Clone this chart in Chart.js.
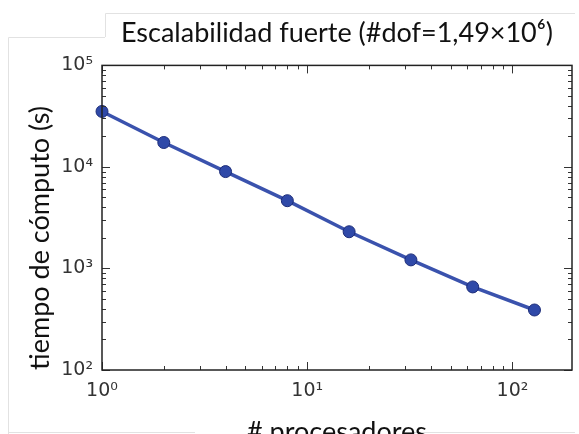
<!DOCTYPE html>
<html><head><meta charset="utf-8">
<script src="https://cdn.jsdelivr.net/npm/chart.js@4"></script>
<style>html,body{margin:0;padding:0;background:#fff}#wrap{width:579px;height:434px}</style>
</head><body><div id="wrap"><canvas id="c" width="579" height="434"></canvas></div>
<script>
const processors = [1, 2, 4, 8, 16, 32, 64, 128];
const timeSeconds = [35200, 17400, 9000, 4650, 2300, 1215, 658, 390];
const xTickLabels = {1: '10⁰', 10: '10¹', 100: '10²'};
const yTickLabels = {100: '10²', 1000: '10³', 10000: '10⁴', 100000: '10⁵'};
const titleText = 'Escalabilidad fuerte (#dof=1,49×10⁶)';
const xTitle = '# procesadores';
const yTitle = 'tiempo de cómputo (s)';

const isPow10 = v => Math.abs(Math.log10(v) - Math.round(Math.log10(v))) < 1e-9;

const tickPlugin = {
  id: 'inTicks',
  beforeDraw(chart) {
    const ctx = chart.ctx;
    ctx.save();
    ctx.strokeStyle = '#e2e2e2';
    ctx.lineWidth = 1;
    ctx.beginPath();
    ctx.moveTo(105.5, 37); ctx.lineTo(105.5, 13.5); ctx.lineTo(575, 13.5);
    ctx.moveTo(8.5, 434); ctx.lineTo(8.5, 37.5); ctx.lineTo(105, 37.5);
    ctx.moveTo(8.5, 432.5); ctx.lineTo(195, 432.5);
    ctx.moveTo(405, 432.5); ctx.lineTo(575, 432.5);
    ctx.stroke();
    ctx.restore();
  },
  afterDatasetsDraw(chart) {
    const ctx = chart.ctx, a = chart.chartArea;
    const xs = chart.scales.x, ys = chart.scales.y;
    ctx.save();
    ctx.strokeStyle = '#333';
    ctx.lineWidth = 1;
    const vals = (min, max) => {
      const out = [];
      for (let e = Math.floor(Math.log10(min)); e <= Math.ceil(Math.log10(max)); e++) {
        for (let m = 1; m <= 9; m++) {
          const v = m * Math.pow(10, e);
          if (v >= min - 1e-9 && v <= max + 1e-9) out.push(v);
        }
      }
      return out;
    };
    ctx.beginPath();
    vals(xs.min, xs.max).forEach(v => {
      const x = Math.round(xs.getPixelForValue(v)) + 0.5;
      const L = isPow10(v) ? 8 : 4;
      ctx.moveTo(x, a.bottom); ctx.lineTo(x, a.bottom - L);
      ctx.moveTo(x, a.top); ctx.lineTo(x, a.top + L);
    });
    vals(ys.min, ys.max).forEach(v => {
      const y = Math.round(ys.getPixelForValue(v)) + 0.5;
      const L = isPow10(v) ? 8 : 4;
      ctx.moveTo(a.left, y); ctx.lineTo(a.left + L, y);
      ctx.moveTo(a.right, y); ctx.lineTo(a.right - L, y);
    });
    ctx.stroke();
    ctx.lineWidth = 1.5;
    ctx.strokeStyle = '#222';
    ctx.strokeRect(a.left, a.top, a.right - a.left, a.bottom - a.top);
    ctx.restore();
  }
};

new Chart(document.getElementById('c'), {
  type: 'line',
  data: {
    datasets: [{
      data: processors.map((p, i) => ({x: p, y: timeSeconds[i]})),
      borderColor: '#3a52ad',
      borderWidth: 3.5,
      pointRadius: 6,
      pointBackgroundColor: '#2f49a8',
      pointBorderColor: '#1c2c78',
      pointBorderWidth: 1,
      tension: 0,
      clip: false
    }]
  },
  options: {
    responsive: false,
    animation: false,
    devicePixelRatio: 1,
    layout: {padding: {left: 0, right: 6, top: 0, bottom: 0}},
    plugins: {
      legend: {display: false},
      tooltip: {enabled: false},
      title: {
        display: true, text: titleText, fullSize: false,
        color: '#111', font: {family: 'Lato', size: 27, weight: 'normal'},
        padding: {top: 17, bottom: 16}
      }
    },
    scales: {
      x: {
        type: 'logarithmic', min: 1, max: 195,
        afterFit(s) { s.height = 64; },
        afterBuildTicks(s) { s.ticks = s.ticks.filter(t => isPow10(t.value)); },
        grid: {display: false, drawTicks: false},
        border: {display: false},
        ticks: {
          autoSkip: false, maxRotation: 0, padding: 10, color: '#333',
          font: {family: 'DejaVu Sans', size: 19},
          callback: v => xTickLabels[Math.round(v)] || ''
        },
        title: {display: true, text: xTitle, color: '#111',
          font: {family: 'Lato', size: 27}, padding: {top: 0, bottom: -14}}
      },
      y: {
        type: 'logarithmic', min: 100, max: 100000,
        afterFit(s) { s.width = 102; },
        afterBuildTicks(s) { s.ticks = s.ticks.filter(t => isPow10(t.value)); },
        grid: {display: false, drawTicks: false},
        border: {display: false},
        ticks: {
          autoSkip: false, padding: 9, color: '#333',
          font: {family: 'DejaVu Sans', size: 19},
          callback: v => yTickLabels[Math.round(v)] || ''
        },
        title: {display: true, text: yTitle + '\u2002\u2002\u2002', color: '#111',
          font: {family: 'Lato', size: 27}, padding: {top: 24, bottom: 0}}
      }
    }
  },
  plugins: [tickPlugin]
});
</script></body></html>
